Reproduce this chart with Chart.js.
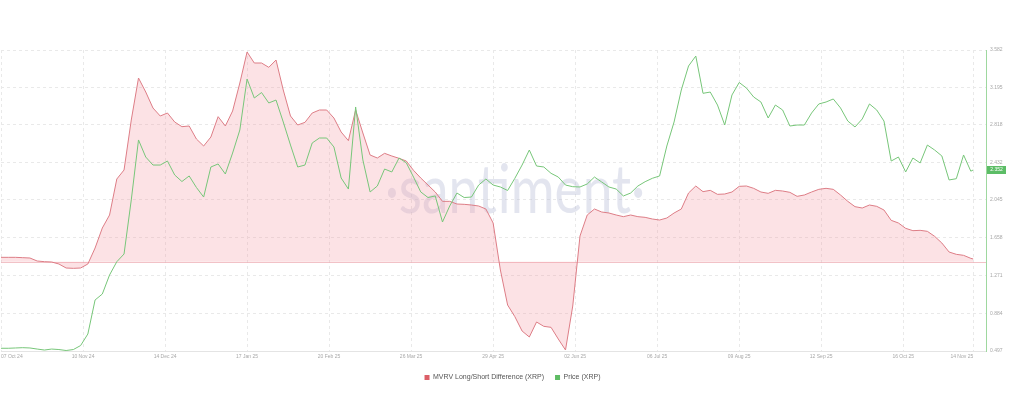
<!DOCTYPE html>
<html><head><meta charset="utf-8">
<script src="https://cdn.jsdelivr.net/npm/chart.js@4.4.1/dist/chart.umd.min.js"></script>
<style>html,body{margin:0;padding:0;background:#fff;}#wrap{width:1024px;height:396px;}</style>
</head><body><div id="wrap"><canvas id="c" width="1024" height="396"></canvas></div>
<script>
// day offsets from 07 Oct 2024
const dayOffsets = [0,3,6,9,12,15,18,21,24,27,30,33,36,39,42,45,48,51,54,57,60,63,66,69,72,75,78,81,84,87,90,93,96,99,102,105,108,111,114,117,120,123,126,129,132,135,138,141,144,147,150,153,156,159,162,165,168,171,174,177,180,183,186,189,192,195,198,201,204,207,210,213,216,219,222,225,228,231,234,237,240,243,246,249,252,255,258,261,264,267,270,273,276,279,282,285,288,291,294,297,300,303,306,309,312,315,318,321,324,327,330,333,336,339,342,345,348,351,354,357,360,363,366,369,372,375,378,381,384,387,390,393,396,399,402,403];

const mvrvValues = [
1.3,1.3,1.3,1.2,1.1,0.2,0.0,-0.1,-0.7,-1.9,
-2.0,-1.9,-0.7,4.1,10.1,14.0,24.8,27.5,42.5,55.1,
50.9,46.1,43.7,44.6,41.9,40.5,40.7,36.8,34.7,37.4,
43.5,40.7,45.2,53.6,62.9,59.6,59.6,58.3,60.5,51.5,
43.7,41.0,41.8,44.6,45.5,45.5,43.1,38.9,36.3,45.5,
38.6,32.0,31.1,32.5,31.7,31.0,30.2,27.4,25.1,23.0,
20.9,18.1,18.1,17.3,17.2,17.0,16.7,15.8,11.6,-2.5,
-13.0,-16.5,-20.8,-22.6,-18.1,-19.4,-19.7,-23.2,-26.5,-13.3,
7.7,14.0,15.8,14.9,14.6,14.0,13.5,14.0,13.5,13.3,
12.8,12.5,13.1,14.6,15.8,20.6,22.7,21.0,21.4,20.2,
20.3,20.9,22.6,22.7,22.0,20.9,20.5,21.4,21.2,20.8,
19.6,20.0,20.9,21.7,22.0,21.7,20.0,18.1,16.5,16.1,
17.0,16.6,15.5,12.4,11.6,10.0,9.3,9.4,9.1,7.6,
5.6,2.9,2.2,1.9,1.0,0.8];

const priceValues = [
0.525,0.525,0.528,0.531,0.528,0.517,0.507,0.517,0.512,0.502,
0.512,0.553,0.671,1.020,1.081,1.276,1.412,1.491,2.045,2.660,
2.485,2.403,2.403,2.444,2.301,2.234,2.291,2.173,2.075,2.383,
2.414,2.311,2.526,2.762,3.285,3.090,3.146,3.039,3.069,2.844,
2.608,2.383,2.403,2.629,2.680,2.680,2.588,2.270,2.157,2.998,
2.455,2.127,2.188,2.362,2.332,2.475,2.426,2.280,2.127,2.070,
2.086,1.819,1.983,2.116,2.070,2.075,2.198,2.260,2.198,2.178,
2.142,2.267,2.403,2.557,2.393,2.383,2.318,2.280,2.198,2.181,
2.178,2.209,2.280,2.229,2.178,2.157,2.086,2.116,2.188,2.232,
2.267,2.291,2.598,2.844,3.172,3.418,3.520,3.138,3.151,3.018,
2.813,3.121,3.249,3.192,3.100,3.049,2.885,3.018,2.967,2.803,
2.813,2.813,2.936,3.029,3.049,3.080,2.988,2.854,2.793,2.875,
3.029,2.967,2.854,2.444,2.485,2.332,2.475,2.424,2.608,2.557,
2.496,2.250,2.263,2.506,2.340,2.352];

const dateTickDays = [0,34,68,102,136,170,204,238,272,306,340,374,403];
const dateTickLabels = ['07 Oct 24','10 Nov 24','14 Dec 24','17 Jan 25','20 Feb 25','26 Mar 25','29 Apr 25','02 Jun 25','06 Jul 25','09 Aug 25','12 Sep 25','16 Oct 25','14 Nov 25'];
const priceTickValues = [0.497,0.884,1.271,1.658,2.045,2.432,2.818,3.195,3.582];
const seriesNames = ['MVRV Long/Short Difference (XRP)','Price (XRP)'];
const watermarkText = '\u00B7santiment\u00B7';

const lastPrice = priceValues[priceValues.length - 1];
const legendColors = ['#dc5f68', '#5fbc64'];

const decor = {
  id: 'decor',
  beforeDatasetsDraw(chart) {
    const {ctx, chartArea} = chart;
    ctx.save();
    ctx.font = '400 68px Lato';
    const w = ctx.measureText(watermarkText).width;
    ctx.translate(515, 213);
    ctx.scale(260 / w, 1);
    ctx.textAlign = 'center';
    ctx.textBaseline = 'alphabetic';
    ctx.fillStyle = 'rgba(188,194,218,0.42)';
    ctx.fillText(watermarkText, 0, 0);
    ctx.restore();
    const y0 = Math.round(chart.scales.mvrv.getPixelForValue(0)) + 0.5;
    ctx.save();
    ctx.strokeStyle = 'rgba(236,168,175,0.7)';
    ctx.lineWidth = 1;
    ctx.beginPath();
    ctx.moveTo(chartArea.left, y0);
    ctx.lineTo(chartArea.right, y0);
    ctx.stroke();
    ctx.restore();
  },
  afterDraw(chart) {
    const {ctx, chartArea} = chart;
    const y = chart.scales.y.getPixelForValue(lastPrice);
    ctx.save();
    ctx.fillStyle = '#5cbd66';
    ctx.fillRect(chartArea.right + 1, Math.round(y) - 4, 19, 8);
    ctx.fillStyle = '#ffffff';
    ctx.font = '5px "Liberation Sans"';
    ctx.textAlign = 'center';
    ctx.textBaseline = 'middle';
    ctx.fillText(lastPrice.toFixed(3), chartArea.right + 10.5, Math.round(y));
    ctx.restore();
  }
};

new Chart(document.getElementById('c'), {
  type: 'line',
  data: {
    datasets: [
      {
        label: seriesNames[1],
        data: dayOffsets.map((d, i) => ({x: d, y: priceValues[i]})),
        yAxisID: 'y',
        borderColor: '#77c679',
        backgroundColor: '#77c679',
        borderWidth: 1,
        pointRadius: 0,
        fill: false,
        tension: 0
      },
      {
        label: seriesNames[0],
        data: dayOffsets.map((d, i) => ({x: d, y: mvrvValues[i]})),
        yAxisID: 'mvrv',
        borderColor: '#dd7d86',
        backgroundColor: 'rgba(245,160,170,0.30)',
        borderWidth: 1,
        pointRadius: 0,
        fill: 'origin',
        tension: 0
      }
    ]
  },
  options: {
    responsive: false,
    animation: false,
    devicePixelRatio: 1,
    layout: {padding: {left: 1, right: 0, top: 50, bottom: 5}},
    interaction: {mode: 'nearest', intersect: false},
    plugins: {
      tooltip: {enabled: false},
      legend: {
        display: true,
        position: 'bottom',
        labels: {
          boxWidth: 5,
          boxHeight: 5,
          padding: 11,
          color: '#555555',
          font: {size: 7, family: '"Liberation Sans", Arial, sans-serif'},
          generateLabels: (chart) => [1, 0].map(i => ({
            text: chart.data.datasets[i].label,
            fillStyle: legendColors[i === 1 ? 0 : 1],
            strokeStyle: legendColors[i === 1 ? 0 : 1],
            lineWidth: 0,
            hidden: false,
            datasetIndex: i,
            fontColor: '#555555'
          }))
        }
      }
    },
    scales: {
      x: {
        type: 'linear',
        min: 0,
        max: 408.3,
        afterBuildTicks: (s) => { s.ticks = dateTickDays.map(v => ({value: v})); },
        afterFit: (s) => { s.height = 12; s.paddingLeft = 0; s.paddingRight = 0; },
        ticks: {
          autoSkip: false,
          maxRotation: 0,
          align: 'inner',
          padding: 3,
          color: '#a8a8a8',
          font: {size: 5, family: '"Liberation Sans", Arial, sans-serif'},
          callback: (v, i) => dateTickLabels[i]
        },
        grid: {color: '#e9e9e9', drawTicks: false, lineWidth: 1},
        border: {display: true, color: '#e4e4e4', width: 1, dash: [3, 3]}
      },
      y: {
        type: 'linear',
        position: 'right',
        min: 0.497,
        max: 3.582,
        afterBuildTicks: (s) => { s.ticks = priceTickValues.map(v => ({value: v})); },
        afterFit: (s) => { s.width = 38; },
        ticks: {
          padding: 4,
          color: '#a8a8a8',
          font: {size: 5, family: '"Liberation Sans", Arial, sans-serif'},
          callback: (v, i) => priceTickValues[i].toFixed(3)
        },
        grid: {color: '#e9e9e9', drawTicks: false, lineWidth: 1},
        border: {display: true, color: '#9ed89f', width: 1, dash: [3, 3]}
      },
      mvrv: {
        type: 'linear',
        display: false,
        position: 'left',
        min: -26.8,
        max: 63.5
      }
    }
  },
  plugins: [decor]
});
</script>
</body></html>
